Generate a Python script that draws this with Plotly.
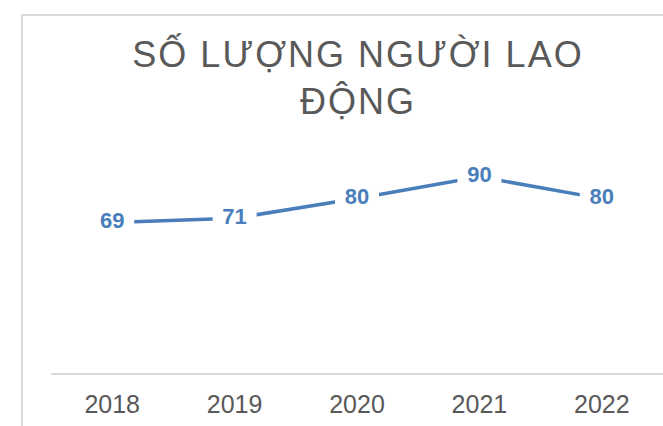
import plotly.graph_objects as go

years = ["2018", "2019", "2020", "2021", "2022"]
workers = [69, 71, 80, 90, 80]
title_lines = ["SỐ LƯỢNG NGƯỜI LAO", "ĐỘNG"]

line_color = "#4A7EBB"
text_gray = "#595959"
border_gray = "#D9D9D9"

fig = go.Figure()
fig.add_trace(go.Scatter(
    x=years, y=workers, mode="lines",
    line=dict(color=line_color, width=3.5),
    hoverinfo="skip", showlegend=False,
))
# data labels centred on the points, with a white box that interrupts the line
fig.add_trace(go.Scatter(
    x=years, y=workers, mode="markers+text",
    marker=dict(symbol="square", size=44, color="white", line=dict(width=0)),
    text=[str(v) for v in workers], texttemplate="<b>%{text}</b>",
    textposition="middle center",
    textfont=dict(family="Liberation Sans, Arial", size=22, color=line_color),
    hoverinfo="skip", showlegend=False, cliponaxis=False,
))

title_html = "<br>".join(
    f"<span style='letter-spacing:2px'>{t}</span>" for t in title_lines
)

fig.update_layout(
    width=663, height=426,
    margin=dict(l=51, r=0, t=155, b=53),
    paper_bgcolor="white", plot_bgcolor="white",
    title=dict(
        text=title_html,
        font=dict(family="Liberation Sans, Arial", size=36, color=text_gray),
        x=358 / 663, xref="container", xanchor="center",
        y=1 - 67 / 426, yref="container", yanchor="top",
    ),
    xaxis=dict(
        type="category", range=[-0.5, 4.5],
        showline=True, linecolor=border_gray, linewidth=2,
        showgrid=False, zeroline=False,
        ticks="outside", ticklen=8, tickcolor="rgba(0,0,0,0)",
        tickfont=dict(family="Liberation Sans, Arial", size=25, color=text_gray),
    ),
    yaxis=dict(
        range=[0, 100], visible=False, showgrid=False, zeroline=False,
    ),
    shapes=[dict(
        type="rect", xref="paper", yref="paper",
        x0=(22 - 51) / 612, x1=1.05,
        y0=-0.5, y1=(373 - 15) / 218,
        line=dict(color=border_gray, width=2), fillcolor="rgba(0,0,0,0)",
        layer="below",
    )],
)

fig.write_html(
    "out.html",
    config={"displayModeBar": False},
    post_script="document.body.style.margin='0';document.body.style.padding='0';",
)
